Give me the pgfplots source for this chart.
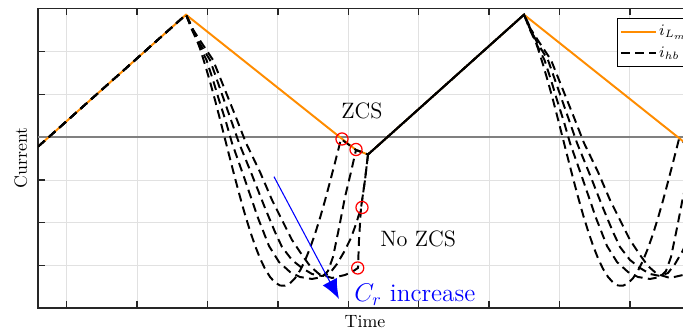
\documentclass[border=0pt]{standalone}
\usepackage{pgfplots}
\pgfplotsset{compat=1.18}
\usetikzlibrary{arrows.meta}
\definecolor{lmorange}{RGB}{255,140,0}
\definecolor{zerogray}{RGB}{128,128,128}
\definecolor{gridgray}{RGB}{225,225,225}
\definecolor{axgray}{RGB}{38,38,38}
\begin{document}
\begin{tikzpicture}
\useasboundingbox (-21.35pt,-13.48pt) rectangle (362.36pt,173.03pt);
\clip (-21.35pt,-13.48pt) rectangle (362.36pt,173.03pt);
\begin{scope}[overlay]
\begin{axis}[
  scale only axis, width=367.42pt, height=168.37pt,
  xmin=38, xmax=692, ymin=-308, ymax=-8.3,
  xtick={66.7,137.1,207.5,277.9,348.3,418.7,489.1,559.5,629.9},
  ytick={-265.7,-222.7,-180,-137,-94.3,-51.7},
  xticklabels={}, yticklabels={},
  tick align=inside, major tick length=3.75pt,
  grid=major, major grid style={color=gridgray, line width=0.5pt},
  axis line style={color=axgray, line width=0.7pt},
  every tick/.style={color=axgray, line width=0.7pt},
  xlabel={Time}, ylabel={Current},
  xlabel style={at={(axis description cs:0.5,-0.0467)}, anchor=center},
  ylabel style={at={(axis description cs:-0.0262,0.5)}, anchor=center},
  legend style={at={(axis cs:616.7,-18.3)}, anchor=north west, draw=black, line width=0.5pt,
    font=\small, inner xsep=1.5pt, inner ysep=2pt, row sep=1.8pt,
    nodes={inner sep=1.5pt}, /tikz/every even column/.append style={column sep=1pt}},
  legend cell align=left,
  legend image code/.code={\draw[#1] (0pt,0pt) -- (19.5pt,0pt);},
]
% zero line
\addplot[zerogray, line width=1.1pt, forget plot] coordinates {(38,-137) (692,-137)};
% magnetizing current
\addplot[lmorange, line width=1.1pt] coordinates {
 (38,-146.7) (186,-14.7) (356,-150) (368,-154.5) (524,-14.7) (692,-148.4)};
\addlegendentry{$i_{L_m}$}
% i_hb curve 1 (ZCS at zero crossing)
\addplot[black, line width=1.1pt, dash pattern=on 5pt off 3pt] coordinates {
 (38,-146.7) (186,-14.7) (190,-22.6) (195,-34.5) (200,-48.6) (205,-64.5) (210,-81.7)
 (215,-100) (220,-119.3) (225,-139) (230,-158.7) (235,-178.1) (240,-196.8) (245,-214.6)
 (250,-230.8) (255,-245.5) (260,-258.3) (265,-268.8) (270,-276.9) (275,-282.5) (280,-285.5)
 (285,-285.7) (290,-283.4) (295,-278.2) (300,-270.6) (305,-260.6) (310,-248.2) (315,-234)
 (320,-218) (325,-200.5) (330,-181.8) (335,-162.6) (341,-139) (356,-150) (368,-154.5)
 (524,-14.7) (528,-22.6) (533,-34.5) (538,-48.6) (543,-64.5) (548,-81.7) (553,-100)
 (558,-119.3) (563,-139) (568,-158.7) (573,-178.1) (578,-196.8) (583,-214.6) (588,-230.8)
 (593,-245.5) (598,-258.3) (603,-268.8) (608,-276.9) (613,-282.5) (618,-285.5) (623,-285.7)
 (628,-283.4) (633,-278.2) (638,-270.6) (643,-260.6) (648,-248.2) (653,-234) (658,-218)
 (663,-200.5) (668,-181.8) (673,-162.6) (679,-139) (692,-148.4)};
\addlegendentry{$i_{hb}$}
% i_hb curve 2
\addplot[black, line width=1.1pt, dash pattern=on 5pt off 3pt, forget plot] coordinates {
 (38,-146.7) (186,-14.7) (192,-30) (199,-45) (206.5,-60) (213,-80) (219,-100) (226,-122)
 (232,-143) (245,-180) (258,-218) (269,-246) (279,-262) (290,-272) (300,-277) (312,-279)
 (322,-277) (328,-271) (333,-257) (339,-228) (345,-197) (351,-172) (356,-150) (368,-154.5)
 (524,-14.7) (530,-30) (537,-45) (544.5,-60) (551,-80) (557,-100) (564,-122) (570,-143)
 (583,-180) (596,-218) (607,-246) (617,-262) (628,-272) (638,-277) (650,-279) (660,-277)
 (666,-271) (671,-257) (677,-228) (683,-197) (689,-172) (694,-150)};
% i_hb curve 3
\addplot[black, line width=1.1pt, dash pattern=on 5pt off 3pt, forget plot] coordinates {
 (38,-146.7) (186,-14.7) (192,-29) (200,-44) (210,-60) (217,-80) (224,-100) (231,-120)
 (239,-143) (252,-175) (265,-208) (275,-232) (282,-247) (292,-260) (302,-268) (312,-274)
 (322,-276) (330,-273) (337,-264) (344,-252) (351,-238) (356,-224) (361,-208) (365,-180)
 (368,-154.5) (524,-14.7) (530,-29) (538,-44) (548,-60) (555,-80) (562,-100) (569,-120)
 (577,-143) (590,-175) (603,-208) (613,-232) (620,-247) (630,-260) (640,-268) (650,-274)
 (660,-276) (668,-273) (675,-264) (682,-252) (689,-238) (694,-224)};
% i_hb curve 4
\addplot[black, line width=1.1pt, dash pattern=on 5pt off 3pt, forget plot] coordinates {
 (38,-146.7) (186,-14.7) (192,-28) (201,-42) (213,-60) (221,-80) (229,-100) (237,-120)
 (246,-143) (260,-172) (272,-200) (283,-222) (292,-240) (302,-255) (310,-266) (319,-274)
 (332,-278) (345,-275) (352,-272) (358,-268) (359,-240) (361,-208) (365,-180) (368,-154.5)
 (524,-14.7) (530,-28) (539,-42) (551,-60) (559,-80) (567,-100) (575,-120) (584,-143)
 (598,-172) (610,-200) (621,-222) (630,-240) (640,-255) (648,-266) (657,-274) (670,-278)
 (683,-275) (690,-272) (696,-268)};
% switching points
\addplot[only marks, mark=o, mark size=3.4pt, red, mark options={line width=0.7pt}, forget plot]
 coordinates {(342,-139) (356,-149.5) (362,-207.5) (357.7,-268)};
% C_r increase arrow
\addplot[blue, line width=0.6pt, -{Latex[length=11pt,width=9pt]}, forget plot]
 coordinates {(274,-176.7) (339,-299)};
\node[anchor=base, inner sep=0pt, font=\fontsize{12.5}{15}\selectfont] at (axis cs:362,-119) {ZCS};
\node[anchor=base west, inner sep=0pt, font=\fontsize{12.5}{15}\selectfont] at (axis cs:380,-246.7) {No ZCS};
\node[anchor=base west, inner sep=0pt, text=blue, font=\fontsize{14.2}{17}\selectfont] at (axis cs:354,-302) {$C_r$ increase};
\end{axis}
\end{scope}
\end{tikzpicture}
\end{document}
